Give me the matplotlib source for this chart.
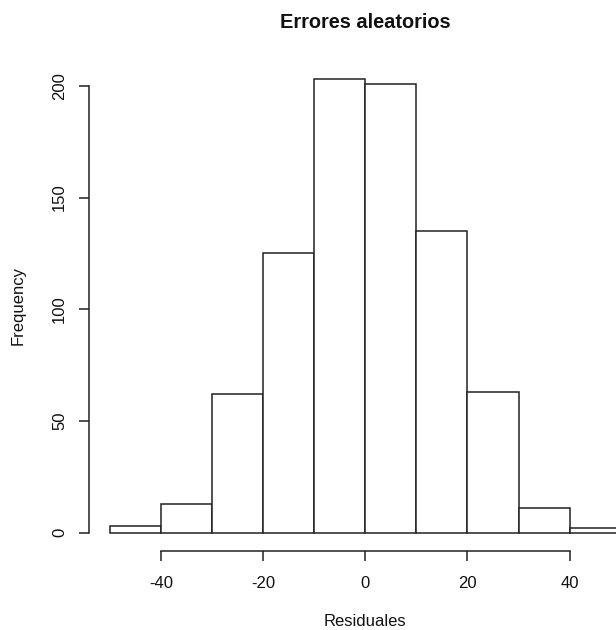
import matplotlib
matplotlib.use("Agg")
import matplotlib.pyplot as plt

plt.rcParams["font.family"] = ["Liberation Sans", "DejaVu Sans"]

# histogram of residuals, bins of width 10
bin_edges = [-50, -40, -30, -20, -10, 0, 10, 20, 30, 40, 50]
counts = [3, 13, 62, 125, 203, 201, 135, 63, 11, 2]
x_ticks = [-40, -20, 0, 20, 40]
y_ticks = [0, 50, 100, 150, 200]

W, H = 616, 630
fig = plt.figure(figsize=(W / 100, H / 100), dpi=100)

# plot region in pixels (R style: 4% padding, runs past the right edge)
left_px, right_px = 89.4, 641.2
top_px, bottom_px = 61.1, 550.8
ax = fig.add_axes([left_px / W, (H - bottom_px) / H,
                   (right_px - left_px) / W, (bottom_px - top_px) / H])

widths = [b - a for a, b in zip(bin_edges[:-1], bin_edges[1:])]
ax.bar(bin_edges[:-1], counts, width=widths, align="edge",
       facecolor="white", edgecolor="#222222", linewidth=1.1)

span = bin_edges[-1] - bin_edges[0]
ax.set_xlim(bin_edges[0] - 0.04 * span, bin_edges[-1] + 0.04 * span)
ymax = max(counts)
ax.set_ylim(-0.04 * ymax, ymax * 1.04)

for side in ("top", "right"):
    ax.spines[side].set_visible(False)
ax.spines["bottom"].set_bounds(x_ticks[0], x_ticks[-1])
ax.spines["left"].set_bounds(y_ticks[0], y_ticks[-1])
for side in ("bottom", "left"):
    ax.spines[side].set_linewidth(1.1)
    ax.spines[side].set_color("#222222")

ax.set_xticks(x_ticks)
ax.set_xticklabels([str(t) for t in x_ticks])
ax.set_yticks(y_ticks)
ax.set_yticklabels([str(t) for t in y_ticks], rotation=90, va="center")
ax.tick_params(length=7.2, width=1.1, color="#222222", labelsize=12,
               labelcolor="#111111")
ax.tick_params(axis="x", pad=11)
ax.tick_params(axis="y", pad=9)

fig.text((left_px + right_px) / 2 / W, 1 - 621 / H, "Residuales",
         ha="center", va="center", fontsize=12, color="#111111")
fig.text(18 / W, 1 - (top_px + bottom_px) / 2 / H, "Frequency",
         ha="center", va="center", rotation=90, fontsize=12, color="#111111")
fig.text((left_px + right_px) / 2 / W, 1 - 22 / H, "Errores aleatorios",
         ha="center", va="center", fontsize=14.4, fontweight="bold",
         color="#111111")

fig.savefig("out.png", dpi=100)
